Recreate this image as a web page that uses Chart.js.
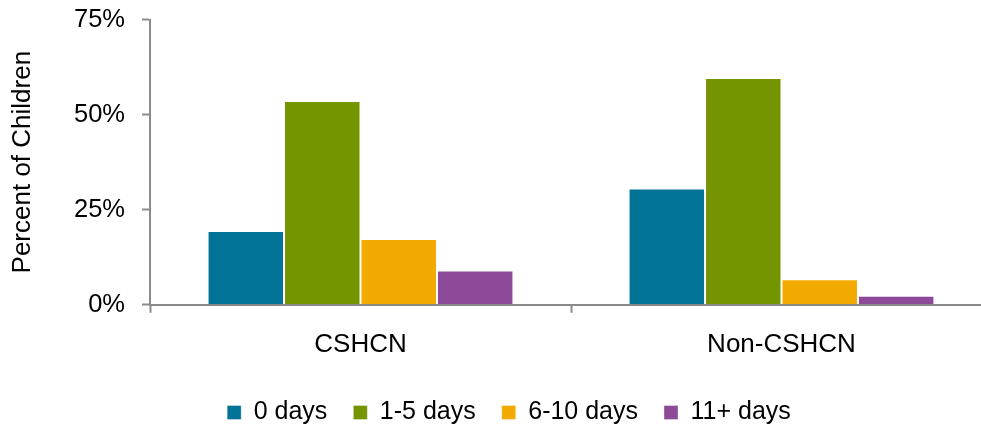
<!DOCTYPE html>
<html>
<head>
<meta charset="utf-8">
<script src="https://cdn.jsdelivr.net/npm/chart.js@4/dist/chart.umd.min.js"></script>
<style>
  html, body { margin: 0; padding: 0; background: #fff; overflow: hidden; }
  #wrap { width: 992px; height: 425px; position: relative; }
</style>
</head>
<body>
<div id="wrap"><canvas id="chart"></canvas></div>
<script>
const categories = ['CSHCN', 'Non-CSHCN'];
const seriesNames = ['0 days', '1-5 days', '6-10 days', '11+ days'];
const zeroDays = [19.4, 30.6];
const oneToFive = [53.6, 59.6];
const sixToTen = [17.3, 6.7];
const elevenPlus = [9.0, 2.4];
const yTicks = [0, 25, 50, 75];
const colors = ['#007396', '#749500', '#F2AA00', '#8D4A99'];

const FONT = "'Liberation Sans', Arial, sans-serif";

// nudge the legend to where the reference puts it
const legendShift = {
  id: 'legendShift',
  afterLayout(chart) {
    const lg = chart.legend;
    if (!lg) return;
    const dx = 13, dy = -2;
    lg.left += dx; lg.right += dx;
    lg.top += dy; lg.bottom += dy;
  }
};

const values = [zeroDays, oneToFive, sixToTen, elevenPlus];

new Chart(document.getElementById('chart'), {
  type: 'bar',
  data: {
    labels: categories,
    datasets: seriesNames.map((name, i) => ({
      label: name,
      data: values[i],
      backgroundColor: colors[i],
      borderColor: 'rgba(255,255,255,0.35)',
      borderWidth: 1,
      barPercentage: 1,
      categoryPercentage: 0.7265
    }))
  },
  options: {
    responsive: true,
    maintainAspectRatio: false,
    animation: false,
    layout: { padding: { top: 0, right: 0, bottom: -12, left: 0 } },
    plugins: {
      tooltip: { enabled: false },
      legend: {
        position: 'bottom',
        labels: {
          boxWidth: 14,
          boxHeight: 14,
          padding: 26,
          color: '#000',
          font: { family: FONT, size: 25 }
        }
      }
    },
    scales: {
      x: {
        grid: {
          drawOnChartArea: false,
          drawTicks: true,
          tickLength: 8,
          tickWidth: 2,
          tickColor: '#8a8a8a',
          offset: true
        },
        border: { color: '#8a8a8a', width: 2 },
        ticks: {
          color: '#000',
          padding: 16,
          font: { family: FONT, size: 26 }
        }
      },
      y: {
        min: 0,
        max: 75,
        afterFit(scale) {
          scale.width = 150;
          scale.paddingTop = 19.5;
          scale.paddingBottom = 10;
        },
        afterBuildTicks(scale) { scale.ticks = yTicks.map(v => ({ value: v })); },
        grid: {
          drawOnChartArea: false,
          drawTicks: true,
          tickLength: 8,
          tickWidth: 2,
          tickColor: '#8a8a8a'
        },
        border: { color: '#8a8a8a', width: 2 },
        ticks: {
          color: '#000',
          padding: 17,
          font: { family: FONT, size: 25.5 },
          callback: v => v + '%'
        },
        title: {
          display: true,
          text: 'Percent of Children',
          color: '#000',
          padding: { top: 7, bottom: 0 },
          font: { family: FONT, size: 26 }
        }
      }
    }
  },
  plugins: [legendShift]
});
</script>
</body>
</html>
